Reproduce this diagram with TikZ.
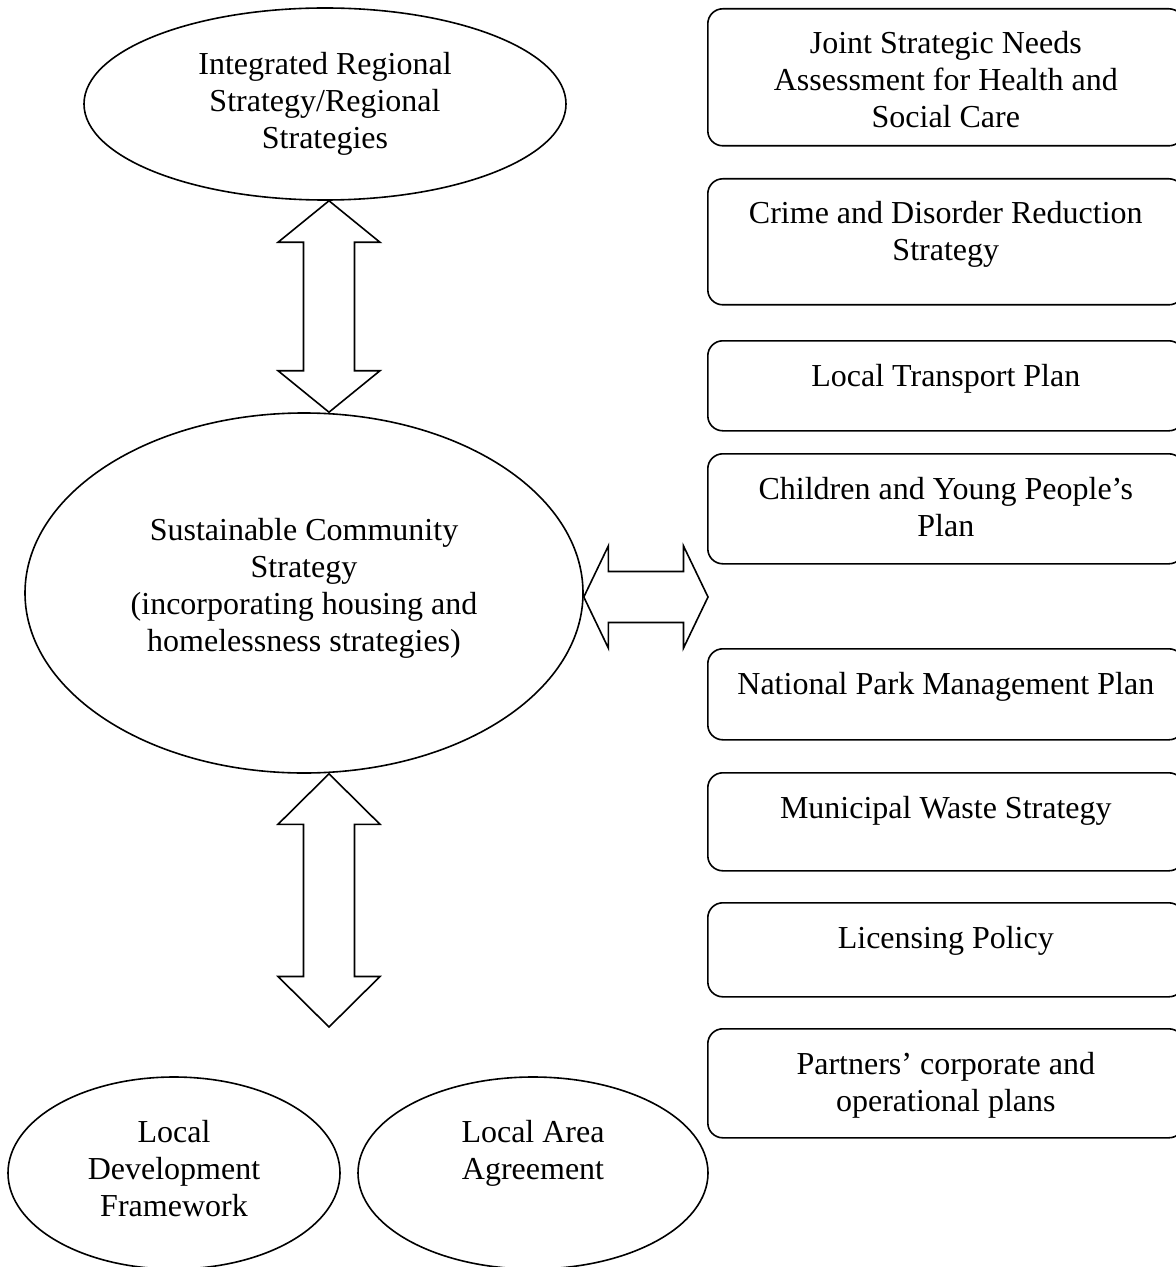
\documentclass[tikz,border=0pt]{standalone}
\usepackage{fontspec}
\setmainfont{Liberation Serif}
\usetikzlibrary{calc,shapes.geometric}
% #1 prefix, #2 end A, #3 end B, #4 head length, #5 half head width, #6 half shaft width
\newcommand\blockdbl[6]{%
  \coordinate (#1h1) at ($(#2)!#4!(#3)$);
  \coordinate (#1h2) at ($(#3)!#4!(#2)$);
  \draw[blk] (#2) -- ($(#1h1)!#5!90:(#3)$) -- ($(#1h1)!#6!90:(#3)$)
    -- ($(#1h2)!#6!90:(#3)$) -- ($(#1h2)!#5!90:(#3)$) -- (#3)
    -- ($(#1h2)!#5!-90:(#3)$) -- ($(#1h2)!#6!-90:(#3)$)
    -- ($(#1h1)!#6!-90:(#3)$) -- ($(#1h1)!#5!-90:(#3)$) -- cycle;
}
\begin{document}
\begin{tikzpicture}[x=0.5pt,y=-0.5pt,
  ell/.style={draw, ellipse, line width=0.8pt, inner sep=0pt},
  rbox/.style={draw, rectangle, rounded corners=7.5pt, line width=0.8pt, inner sep=0pt,
    minimum width=238pt, anchor=north west},
  txt/.style={align=center, inner sep=0pt, font=\fontsize{16pt}{18.5pt}\selectfont, anchor=base},
  blk/.style={draw, line width=0.8pt, line join=miter}]
\useasboundingbox (0,0) rectangle (1176,1267);

% ellipses
\node[ell, minimum width=241pt, minimum height=96pt] (irs) at (325,104) {};
\node[txt] (irst) at ([yshift=-22.5pt]irs.center) {Integrated Regional\\Strategy/Regional\\Strategies};

\node[ell, minimum width=279pt, minimum height=180pt] (scs) at (304,593) {};
\node[txt] (scst) at ([yshift=-29pt]scs.center) {Sustainable Community\\Strategy\\(incorporating housing and\\homelessness strategies)};

\node[ell, minimum width=166pt, minimum height=96pt] (ldf) at (174,1173) {};
\node[txt] (ldft) at ([yshift=-21.5pt]ldf.center) {Local\\Development\\Framework};

\node[ell, minimum width=175pt, minimum height=96pt] (laa) at (533,1173) {};
\node[txt] (laat) at ([yshift=-3pt]laa.center) {Local Area\\Agreement};

% boxes
\node[rbox, minimum height=68.5pt] (b1) at (707,8) {};
\node[txt] (b1t) at ([yshift=-60pt]b1.north) {Joint Strategic Needs\\Assessment for Health and\\Social Care};
\node[rbox, minimum height=63pt] (b2) at (707,178) {};
\node[txt] (b2t) at ([yshift=-41.5pt]b2.north) {Crime and Disorder Reduction\\Strategy};
\node[rbox, minimum height=45pt] (b3) at (707,340) {};
\node[txt] (b3t) at ([yshift=-23pt]b3.north) {Local Transport Plan};
\node[rbox, minimum height=55pt] (b4) at (707,453) {};
\node[txt] (b4t) at ([yshift=-41.5pt]b4.north) {Children and Young People’s\\Plan};
\node[rbox, minimum height=45.5pt] (b5) at (707,648) {};
\node[txt] (b5t) at ([yshift=-23pt]b5.north) {National Park Management Plan};
\node[rbox, minimum height=49pt] (b6) at (707,772) {};
\node[txt] (b6t) at ([yshift=-23pt]b6.north) {Municipal Waste Strategy};
\node[rbox, minimum height=47pt] (b7) at (707,902) {};
\node[txt] (b7t) at ([yshift=-23pt]b7.north) {Licensing Policy};
\node[rbox, minimum height=54.5pt] (b8) at (707,1028) {};
\node[txt] (b8t) at ([yshift=-41.5pt]b8.north) {Partners’ corporate and\\operational plans};

% block arrows
\coordinate (v1a) at ([xshift=2pt]irs.south);
\coordinate (v1b) at ([xshift=12.5pt]scs.north);
\coordinate (v2a) at ([xshift=12.5pt]scs.south);
\coordinate (v2b) at (329,1027);
\coordinate (h1a) at ([yshift=-2pt]scs.east);
\coordinate (h1b) at (708,597);
\blockdbl{va}{v1a}{v1b}{20.75pt}{25.5pt}{12.75pt}
\blockdbl{vb}{v2a}{v2b}{25.25pt}{25.5pt}{12.75pt}
\blockdbl{ha}{h1a}{h1b}{12.25pt}{25.5pt}{12.75pt}
\end{tikzpicture}
\end{document}
